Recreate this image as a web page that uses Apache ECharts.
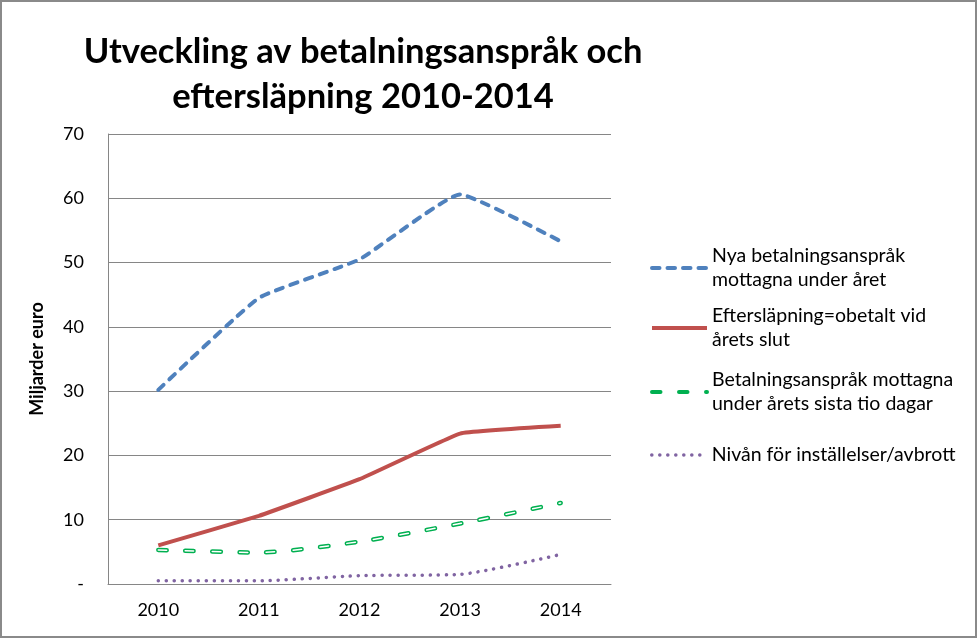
<!DOCTYPE html>
<html>
<head>
<meta charset="utf-8">
<script src="https://cdn.jsdelivr.net/npm/echarts@6/dist/echarts.min.js"></script>
<style>
html,body{margin:0;padding:0;background:#fff;}
#wrap{width:977px;height:638px;box-sizing:border-box;border:2px solid #8a8a8a;position:relative;overflow:hidden;}
#chart{position:absolute;left:-2px;top:-2px;width:977px;height:638px;}
</style>
</head>
<body>
<div id="wrap"><div id="chart"></div></div>
<script>
const categories = ['2010', '2011', '2012', '2013', '2014'];
const nyaBetalningsansprak = [30.2, 44.5, 50.5, 60.6, 53.3];
const efterslapning = [6.0, 10.6, 16.3, 23.4, 24.6];
const sistaTioDagar = [5.3, 4.9, 6.6, 9.4, 12.6];
const installelser = [0.5, 0.5, 1.3, 1.5, 4.6];
const yTicks = [0, 10, 20, 30, 40, 50, 60, 70];

const seriesNames = [
  'Nya betalningsanspråk\nmottagna under året',
  'Eftersläpning=obetalt vid\nårets slut',
  'Betalningsanspråk mottagna\nunder årets sista tio dagar',
  'Nivån för inställelser/avbrott'
];

const FONT = 'Lato, "Open Sans", sans-serif';
const chart = echarts.init(document.getElementById('chart'));

function legendAt(name, top, multiline, width) {
  return {
    orient: 'vertical', left: 650, top: top, padding: 0,
    itemWidth: 55, itemHeight: 14, itemGap: 0,
    data: [{ name: name }],
    itemStyle: { opacity: 0 },
    lineStyle: { width: width },
    textStyle: {
      fontFamily: FONT, fontSize: 19.5, color: '#000', lineHeight: 24,
      padding: multiline ? [24, 0, 0, 0] : 0
    }
  };
}

chart.setOption({
  animation: false,
  title: {
    text: 'Utveckling av betalningsanspråk och\neftersläpning 2010-2014',
    left: 358, top: 24, textAlign: 'center',
    textStyle: { fontFamily: FONT, fontWeight: 'bold', fontSize: 34.5, lineHeight: 45, color: '#000' }
  },
  legend: [
    legendAt(seriesNames[0], 232, true, 4),
    legendAt(seriesNames[1], 292, true, 4),
    legendAt(seriesNames[2], 356, true, 4),
    legendAt(seriesNames[3], 443, false, 3.5)
  ],
  grid: { left: 108, top: 134, right: 366, bottom: 54, containLabel: false },
  xAxis: {
    type: 'category', data: categories, boundaryGap: true,
    axisLine: { lineStyle: { color: '#868686', width: 1 } },
    axisTick: { show: false },
    axisLabel: { color: '#000', fontFamily: FONT, fontSize: 18, margin: 17 }
  },
  yAxis: {
    type: 'value', min: yTicks[0], max: yTicks[yTicks.length - 1], interval: 10,
    name: 'Miljarder euro', nameLocation: 'middle', nameGap: 62,
    nameTextStyle: { fontFamily: FONT, fontWeight: 'bold', fontSize: 18, color: '#000' },
    axisLine: { show: true, lineStyle: { color: '#868686', width: 1 } },
    axisTick: { show: false },
    splitLine: { lineStyle: { color: '#868686', width: 1 } },
    axisLabel: {
      color: '#000', fontFamily: FONT, fontSize: 18, margin: 24,
      formatter: v => (v === 0 ? '-' : String(v))
    }
  },
  series: [
    {
      name: seriesNames[0], type: 'line', data: nyaBetalningsansprak, smooth: 0.12,
      symbol: 'none', lineStyle: { color: '#4F81BD', width: 4, type: [7.5, 8], cap: 'round' },
      itemStyle: { color: '#4F81BD' }, z: 4
    },
    {
      name: seriesNames[1], type: 'line', data: efterslapning, smooth: 0.08,
      symbol: 'none', lineStyle: { color: '#C0504D', width: 4 },
      itemStyle: { color: '#C0504D' }, z: 3
    },
    {
      name: seriesNames[2], type: 'line', data: sistaTioDagar, smooth: 0.25,
      symbol: 'none', lineStyle: { color: '#00B050', width: 4.5, type: [8.5, 18.5], cap: 'round' },
      itemStyle: { color: '#00B050' }, z: 2
    },
    {
      name: 'inner', type: 'line', data: sistaTioDagar, smooth: 0.25,
      symbol: 'none', lineStyle: { color: '#ffffff', width: 1.5, type: [8.5, 18.5], cap: 'round' },
      itemStyle: { color: '#ffffff' }, z: 2, silent: true
    },
    {
      name: seriesNames[3], type: 'line', data: installelser, smooth: 0.2,
      symbol: 'none', lineStyle: { color: '#8064A2', width: 3.5, type: [0.1, 7.9], cap: 'round' },
      itemStyle: { color: '#8064A2' }, z: 1
    }
  ]
});
</script>
</body>
</html>
